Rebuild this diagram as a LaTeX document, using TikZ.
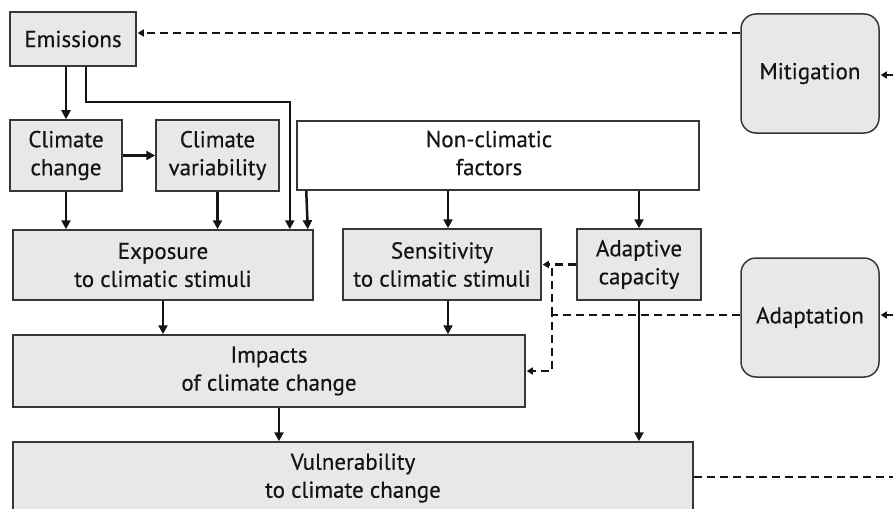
\documentclass[tikz,border=0pt]{standalone}
\usepackage{fontspec}
\setmainfont{PT Sans}[FakeBold=0.4]
\usetikzlibrary{arrows.meta,calc}
\definecolor{boxfill}{HTML}{E8E8E8}
\definecolor{ink}{HTML}{141414}
\begin{document}
\begin{tikzpicture}[x=1pt,y=-1pt,
  every node/.style={font=\fontsize{23}{28}\selectfont, text=ink, align=center, inner sep=0pt},
  boxg/.style={draw=ink!85, line width=1.5pt, fill=boxfill},
  boxw/.style={draw=ink!85, line width=1.5pt, fill=white},
  boxr/.style={draw=ink!85, line width=1.5pt, fill=boxfill, rounded corners=15pt},
  arr/.style={draw=ink, line width=2.5pt, -{Triangle[length=9pt,width=9pt]}},
  dline/.style={draw=ink, line width=2.3pt, dash pattern=on 8pt off 5pt},
  darr/.style={dline, -{Triangle[length=6pt,width=7pt]}, shorten >=1pt}]
\useasboundingbox (0,0) rectangle (893,508);
% boxes
\node[boxg, minimum width=126pt, minimum height=54pt] (emis) at (73,39) {Emissions};
\node[boxg, minimum width=112pt, minimum height=71pt] (cc) at (66,155.5) {Climate\\change};
\node[boxg, minimum width=123pt, minimum height=71pt] (cv) at (217.5,155.5) {Climate\\variability};
\node[boxw, minimum width=402pt, minimum height=69pt, align=left] (ncf) at (498,155.5) {\begin{tabular}{@{}c@{}}Non-climatic\\factors\end{tabular}\hspace*{18pt}};
\node[boxg, minimum width=300pt, minimum height=70pt] (expo) at (163,265) {Exposure\\to climatic stimuli};
\node[boxg, minimum width=198pt, minimum height=71pt] (sens) at (442,264.5) {Sensitivity\\to climatic stimuli};
\node[boxg, minimum width=124pt, minimum height=71pt] (adcap) at (639,264.5) {Adaptive\\capacity};
\node[boxg, minimum width=512pt, minimum height=72pt] (imp) at (269,371) {Impacts\\of climate change};
\node[boxg, minimum width=680pt, minimum height=72pt] (vuln) at (353,478) {Vulnerability\\to climate change};
\node[boxr, minimum width=138pt, minimum height=119pt] (mitig) at (810,73.5) {Mitigation};
\node[boxr, minimum width=138pt, minimum height=119pt] (adapt) at (810,317.5) {Adaptation};
% helper coordinates
\coordinate (xs) at (448,0);
\coordinate (xi) at (279,0);
\coordinate (ye) at (0,33);
\coordinate (bend) at (86,102);
\coordinate (j1) at (552,315);
\coordinate (j2) at (552,265);
\coordinate (offm) at (895,75);
\coordinate (offa) at (895,315);
\coordinate (offv) at (895,477);
% solid connectors
\draw[arr] (emis.south -| cc.north) -- (cc.north);
\draw[arr] (emis.south -| bend) -- (bend) -| ($(expo.north east)+(-24,0)$);
\draw[arr] (cc.east) -- (cv.west);
\draw[arr] (cc.south) -- (cc.south |- expo.north);
\draw[arr] (cv.south) -- (cv.south |- expo.north);
\draw[arr] ($(ncf.south west)+(10,0)$) -- ($(expo.north east)+(-6,0)$);
\draw[arr] (ncf.south -| xs) -- (sens.north -| xs);
\draw[arr] (adcap.north |- ncf.south) -- (adcap.north);
\draw[arr] (expo.south) -- (expo.south |- imp.north);
\draw[arr] (sens.south -| xs) -- (imp.north -| xs);
\draw[arr] (imp.south -| xi) -- (vuln.north -| xi);
\draw[arr] (adcap.south) -- (adcap.south |- vuln.north);
% dashed connectors
\draw[darr] (mitig.west |- ye) -- (emis.east |- ye);
\draw[darr] (offm) -- (mitig.east |- offm);
\draw[darr] (offa) -- (adapt.east |- offa);
\draw[darr] (adcap.west) -- (sens.east);
\draw[darr] (adapt.west |- j1) -- (j1) |- (imp.east);
\draw[dline] (j1) -- (j2);
\draw[dline] (vuln.east |- offv) -- (offv);
\end{tikzpicture}
\end{document}
